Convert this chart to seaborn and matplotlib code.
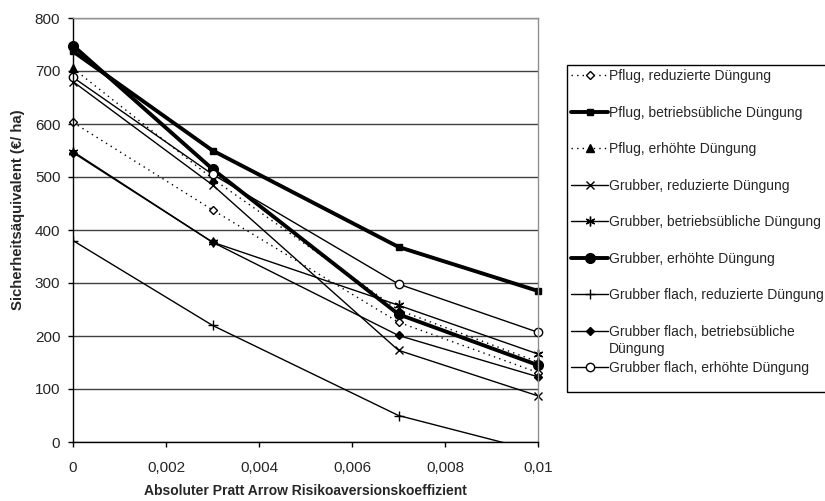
import numpy as np
import pandas as pd
import seaborn as sns
from matplotlib import pyplot as plt
from matplotlib.patches import Rectangle

# Data
koeff = [0, 0.003, 0.007, 0.01]
labels = ['Pflug, reduzierte Düngung',
          'Pflug, betriebsübliche Düngung',
          'Pflug, erhöhte Düngung',
          'Grubber, reduzierte Düngung',
          'Grubber, betriebsübliche Düngung',
          'Grubber, erhöhte Düngung',
          'Grubber flach, reduzierte Düngung',
          'Grubber flach, betriebsübliche',
          'Grubber flach, erhöhte Düngung']
pflug_red = [603, 438, 226, 131]
pflug_betr = [737, 550, 368, 285]
pflug_erh = [705, 497, 249, 151]
grubber_red = [680, 485, 173, 87]
grubber_betr = [548, 377, 258, 166]
grubber_erh = [748, 515, 241, 145]
flach_red = [380, 220, 50, -18]
flach_betr = [546, 377, 201, 123]
flach_erh = [688, 505, 298, 207]
werte = [pflug_red, pflug_betr, pflug_erh, grubber_red, grubber_betr,
         grubber_erh, flach_red, flach_betr, flach_erh]

df = pd.DataFrame([(k, v, lab) for lab, vals in zip(labels, werte)
                   for k, v in zip(koeff, vals)],
                  columns=['koeff', 'wert', 'serie'])

# line width, dash, marker, marker size, marker face
styles = [
    (1.0, (0, (1, 3)), 'D', 4, 'white'),
    (2.8, '-', 's', 5, 'black'),
    (1.0, (0, (1, 3)), '^', 6, 'black'),
    (1.0, '-', 'x', 6, 'black'),
    (1.0, '-', (6, 2, 0), 7, 'black'),
    (2.8, '-', 'o', 7, 'black'),
    (1.0, '-', '+', 7, 'black'),
    (1.0, '-', 'D', 4, 'black'),
    (1.0, '-', 'o', 6, 'white'),
]

sns.set_style('white')
plt.rcParams['font.family'] = ['Liberation Sans', 'DejaVu Sans']

fig = plt.figure(figsize=(8.25, 5.01), dpi=100)
ax = fig.add_axes([73 / 825, 1 - 442 / 501, 465 / 825, 424 / 501])

for lab, (lw, ls, mk, ms, fc) in zip(labels, styles):
    sub = df[df.serie == lab]
    sns.lineplot(data=sub, x='koeff', y='wert', ax=ax, color='black',
                 linewidth=lw, linestyle=ls, marker=mk, markersize=ms,
                 markerfacecolor=fc, markeredgecolor='black',
                 markeredgewidth=1.0, label=lab,
                 clip_on=(lab == labels[6]))

ax.set_xlim(0, 0.01)
ax.set_ylim(0, 800)
ax.set_xticks([0, 0.002, 0.004, 0.006, 0.008, 0.01])
ax.set_xticklabels(['0', '0,002', '0,004', '0,006', '0,008', '0,01'])
ax.set_yticks(range(0, 801, 100))
ax.yaxis.grid(True, color='#404040', linewidth=1.0)
ax.set_axisbelow(True)
ax.tick_params(axis='both', direction='out', length=3.6, width=1,
               color='black', labelsize=11, bottom=True, left=True)
ax.tick_params(axis='x', pad=10)
ax.tick_params(axis='y', pad=5.5)
for s in ['left', 'bottom']:
    ax.spines[s].set_color('black')
    ax.spines[s].set_linewidth(1.0)
for s in ['top', 'right']:
    ax.spines[s].set_color('#909090')
    ax.spines[s].set_linewidth(1.0)

ax.set_xlabel('Absoluter Pratt Arrow Risikoaversionskoeffizient',
              fontsize=10, fontweight='bold')
ax.set_ylabel('Sicherheitsäquivalent (€/ ha)', fontsize=10.7,
              fontweight='bold')
ax.xaxis.set_label_coords(0.5, -0.1)
ax.yaxis.set_label_coords(-0.103, 0.547)

handles, labs = ax.get_legend_handles_labels()
ax.get_legend().remove()
leg = fig.legend(handles, labs, loc='upper left',
                 bbox_to_anchor=(567 / 825, 1 - 65 / 501),
                 fontsize=10, frameon=False, handlelength=2.65,
                 handletextpad=0.1, labelspacing=1.62, borderpad=0.3,
                 borderaxespad=0)

# legend box (Excel style, runs past the right edge)
fig.patches.append(Rectangle((567 / 825, 1 - 392 / 501), 300 / 825,
                             327 / 501, transform=fig.transFigure,
                             fill=False, edgecolor='black', linewidth=1.0,
                             clip_on=False))

# wrapped second line of the 8th legend entry
fig.canvas.draw()
bb = leg.get_texts()[7].get_window_extent()
W, H = fig.bbox.width, fig.bbox.height
fig.text(bb.x0 / W, (bb.y1 - 17) / H, 'Düngung', fontsize=10,
         ha='left', va='top')

fig.savefig('out.png', dpi=100)
